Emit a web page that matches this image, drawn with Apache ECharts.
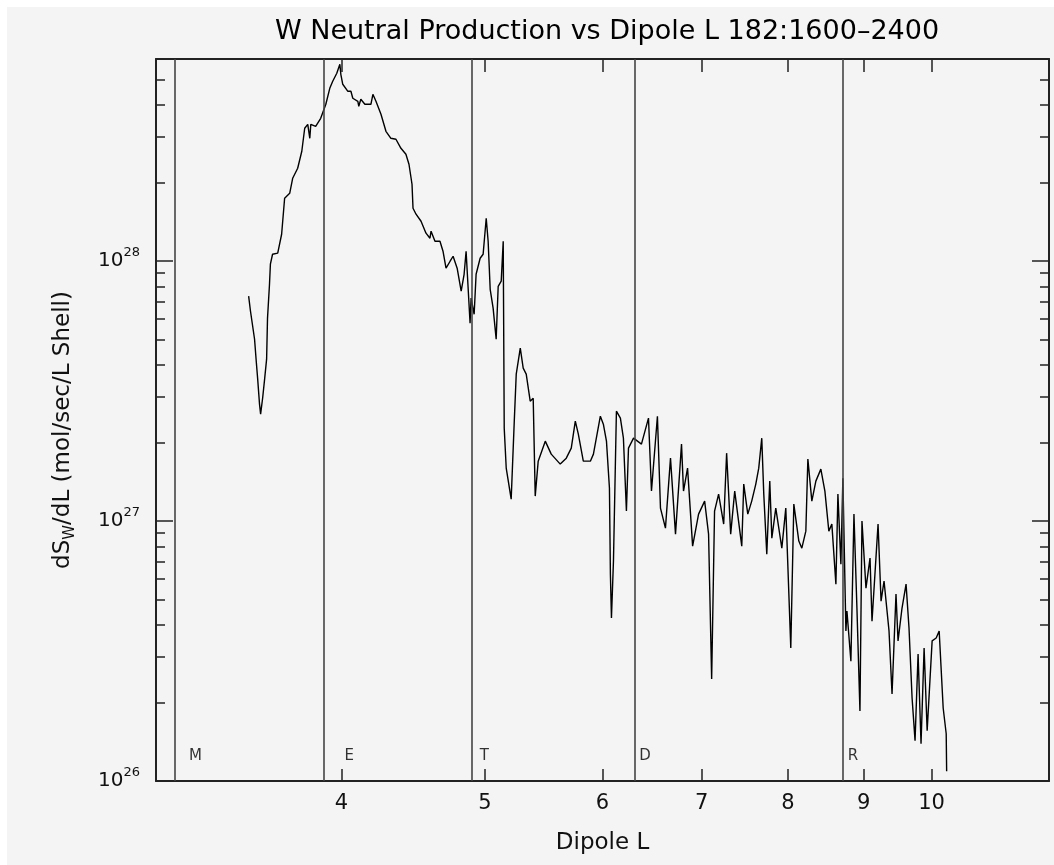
<!DOCTYPE html>
<html>
<head>
<meta charset="utf-8">
<script src="https://cdn.jsdelivr.net/npm/echarts@6/dist/echarts.min.js"></script>
<style>
  html, body { margin: 0; padding: 0; background: #fff; }
  #chart { position: absolute; left: 7px; top: 7px; width: 1047px; height: 858px; }
</style>
</head>
<body>
<div id="chart"></div>
<script>
// dipole L of each sample
var dipoleL = [
  3.464, 3.474, 3.496, 3.505, 3.513, 3.523, 3.529, 3.540, 3.551, 3.562,
  3.567, 3.578, 3.583, 3.595, 3.624, 3.646, 3.663, 3.692, 3.709, 3.738,
  3.762, 3.779, 3.797, 3.809, 3.815, 3.844, 3.874, 3.905, 3.929, 3.947,
  3.972, 3.991, 3.997, 4.009, 4.041, 4.060, 4.072, 4.104, 4.110, 4.123,
  4.149, 4.188, 4.201, 4.221, 4.254, 4.287, 4.320, 4.354, 4.388, 4.422,
  4.443, 4.464, 4.471, 4.492, 4.527, 4.562, 4.590, 4.598, 4.626, 4.662,
  4.684, 4.706, 4.736, 4.758, 4.788, 4.818, 4.840, 4.855, 4.885, 4.893,
  4.916, 4.931, 4.962, 4.985, 5.009, 5.024, 5.040, 5.063, 5.087, 5.103,
  5.127, 5.143, 5.151, 5.167, 5.207, 5.232, 5.248, 5.281, 5.305, 5.330,
  5.363, 5.388, 5.405, 5.430, 5.490, 5.541, 5.619, 5.672, 5.716, 5.752,
  5.779, 5.824, 5.888, 5.916, 5.980, 6.008, 6.037, 6.065, 6.074, 6.084,
  6.103, 6.131, 6.169, 6.198, 6.227, 6.247, 6.296, 6.374, 6.444, 6.474,
  6.534, 6.565, 6.616, 6.668, 6.720, 6.783, 6.804, 6.847, 6.901, 6.965,
  7.031, 7.074, 7.108, 7.140, 7.185, 7.242, 7.275, 7.321, 7.367, 7.448,
  7.471, 7.518, 7.564, 7.612, 7.647, 7.683, 7.707, 7.743, 7.779, 7.804,
  7.852, 7.926, 7.975, 8.037, 8.075, 8.138, 8.176, 8.227, 8.253, 8.304,
  8.356, 8.421, 8.474, 8.526, 8.566, 8.620, 8.647, 8.687, 8.714, 8.755,
  8.769, 8.823, 8.865, 8.906, 8.948, 8.976, 9.032, 9.089, 9.117, 9.203,
  9.246, 9.289, 9.361, 9.405, 9.463, 9.493, 9.552, 9.612, 9.656, 9.702,
  9.747, 9.793, 9.838, 9.885, 9.932, 10.009, 10.072, 10.119, 10.182, 10.230,
  10.237
];
// dS_W/dL (mol/sec/L shell)
var production = [
  7.34e27, 6.42e27, 5.01e27, 4.13e27, 3.52e27, 2.82e27, 2.58e27, 2.97e27, 3.52e27, 4.20e27,
  6.04e27, 8.16e27, 9.74e27, 1.064e28, 1.074e28, 1.27e28, 1.747e28, 1.826e28, 2.085e28, 2.279e28,
  2.649e28, 3.248e28, 3.364e28, 2.972e28, 3.364e28, 3.305e28, 3.548e28, 4.017e28, 4.628e28, 4.924e28,
  5.286e28, 5.724e28, 5.24e28, 4.796e28, 4.507e28, 4.507e28, 4.237e28, 4.125e28, 3.946e28, 4.20e28,
  4.017e28, 4.017e28, 4.388e28, 4.125e28, 3.677e28, 3.162e28, 2.972e28, 2.946e28, 2.72e28, 2.579e28,
  2.361e28, 1.978e28, 1.599e28, 1.517e28, 1.425e28, 1.282e28, 1.226e28, 1.305e28, 1.194e28, 1.194e28,
  1.093e28, 9.40e27, 1.0e28, 1.045e28, 9.40e27, 7.67e27, 8.91e27, 1.093e28, 5.78e27, 7.21e27,
  6.25e27, 8.91e27, 1.027e28, 1.064e28, 1.464e28, 1.194e28, 7.80e27, 6.60e27, 5.01e27, 8.01e27,
  8.38e27, 1.194e28, 2.28e27, 1.60e27, 1.215e27, 2.425e27, 3.677e27, 4.628e27, 3.877e27, 3.677e27,
  2.894e27, 2.972e27, 1.248e27, 1.701e27, 2.031e27, 1.81e27, 1.657e27, 1.747e27, 1.909e27, 2.425e27,
  2.161e27, 1.701e27, 1.701e27, 1.81e27, 2.533e27, 2.361e27, 2.031e27, 1.339e27, 6.25e26, 4.24e26,
  7.02e26, 2.649e27, 2.49e27, 2.085e27, 1.093e27, 1.909e27, 2.085e27, 1.978e27, 2.49e27, 1.305e27,
  2.533e27, 1.122e27, 9.40e26, 1.747e27, 8.91e26, 1.978e27, 1.305e27, 1.599e27, 8.01e26, 1.064e27,
  1.194e27, 8.91e26, 2.47e26, 1.093e27, 1.27e27, 9.74e26, 1.826e27, 8.91e26, 1.305e27, 8.01e26,
  1.388e27, 1.064e27, 1.194e27, 1.388e27, 1.599e27, 2.085e27, 1.27e27, 7.46e26, 1.425e27, 8.60e26,
  1.122e27, 7.87e26, 1.122e27, 3.25e26, 1.163e27, 8.38e26, 7.87e26, 9.15e26, 1.732e27, 1.194e27,
  1.425e27, 1.585e27, 1.305e27, 9.15e26, 9.74e26, 5.72e26, 1.27e27, 6.83e26, 1.463e27, 3.78e26,
  4.51e26, 2.89e26, 1.064e27, 4.63e26, 1.86e26, 1.0e27, 5.52e26, 7.21e26, 4.12e26, 9.74e26,
  4.92e26, 5.88e26, 3.78e26, 2.16e26, 5.24e26, 3.46e26, 4.63e26, 5.72e26, 3.88e26, 2.09e26,
  1.43e26, 3.08e26, 1.39e26, 3.25e26, 1.56e26, 3.46e26, 3.55e26, 3.78e26, 1.91e26, 1.52e26,
  1.09e26
];
// region boundaries (vertical lines) and their letters
var regionL = [3.07, 3.93, 4.875, 6.29, 8.73];
var regionNames = ['M', 'E', 'T', 'D', 'R'];
var regionLabelValue = 1.25e26;
// axes
var xRange = [3, 12];
var yRange = [1e26, 6e28];
var xTickValues = [4, 5, 6, 7, 8, 9, 10];
var yDecades = [26, 27, 28];
var yMinorMantissa = [2, 3, 4, 5, 6, 7, 8, 9];

var FONT = 'DejaVu Sans';
var lg = Math.log10;

var yMajor = yDecades.slice();
var yMinor = [];
yDecades.forEach(function (d) {
  yMinorMantissa.forEach(function (m) {
    var v = lg(m) + d;
    if (v <= lg(yRange[1])) yMinor.push(v);
  });
});
var xTicks = xTickValues.map(lg);

var lineData = dipoleL.map(function (l, i) { return [lg(l), lg(production[i])]; });
var regionLines = regionL.map(function (l) { return { xAxis: lg(l) }; });
var regionLabels = regionL.map(function (l, i) {
  return { name: regionNames[i], value: [lg(l + 0.12), lg(regionLabelValue)] };
});

var frame = { show: true, lineStyle: { color: '#222', width: 2 } };
function xAxisDef(pos, showLabel, len) {
  return {
    type: 'value', position: pos, min: lg(xRange[0]), max: lg(xRange[1]),
    axisLine: frame, splitLine: { show: false },
    axisTick: { show: true, inside: true, length: len, customValues: xTicks,
      lineStyle: { color: '#222', width: 1.5 } },
    axisLabel: { show: showLabel, customValues: xTicks, margin: 12,
      fontFamily: FONT, fontSize: 21, color: '#111',
      formatter: function (v) { return String(Math.round(Math.pow(10, v))); } }
  };
}
function yAxisDef(pos, ticks, len, showLabel, line) {
  return {
    type: 'value', position: pos, min: lg(yRange[0]), max: lg(yRange[1]),
    axisLine: line ? frame : { show: false }, splitLine: { show: false },
    axisTick: { show: true, inside: true, length: len, customValues: ticks,
      lineStyle: { color: '#222', width: 1.5 } },
    axisLabel: { show: showLabel, customValues: ticks, margin: 16,
      formatter: function (v) { return '{b|10}{s|' + Math.round(v) + '}'; },
      rich: {
        b: { fontFamily: FONT, fontSize: 20, color: '#111', lineHeight: 22, verticalAlign: 'middle' },
        s: { fontFamily: FONT, fontSize: 13, color: '#111', lineHeight: 13, padding: [0, 0, 17, 0], verticalAlign: 'middle' }
      } }
  };
}

var yLeft = yAxisDef('left', yMajor, 17, true, true);
yLeft.name = '{a|dS}{w|W}{a|/dL (mol/sec/L Shell)}';
yLeft.nameLocation = 'middle';
yLeft.nameGap = 79;
yLeft.nameTextStyle = {
  padding: [0, 20, 0, 0],
  rich: {
    a: { fontFamily: FONT, fontSize: 23, color: '#111', lineHeight: 28, verticalAlign: 'middle' },
    w: { fontFamily: FONT, fontSize: 15, color: '#111', lineHeight: 14, padding: [14, 0, 0, 0], verticalAlign: 'middle' }
  }
};

var xBottom = xAxisDef('bottom', true, 12);
xBottom.name = 'Dipole L';
xBottom.nameLocation = 'middle';
xBottom.nameGap = 51;
xBottom.nameTextStyle = { fontFamily: FONT, fontSize: 23, color: '#111' };

var chart = echarts.init(document.getElementById('chart'));
var option = {
  animation: false,
  backgroundColor: '#f4f4f4',
  graphic: [{
    type: 'text', x: 600, y: 25,
    style: { text: 'W Neutral Production vs Dipole L 182:1600\u20132400',
      font: '27px "DejaVu Sans"', fill: '#000', align: 'center', verticalAlign: 'middle' }
  }],
  grid: { left: 149, right: 5, top: 52, bottom: 84, containLabel: false },
  xAxis: [xBottom, xAxisDef('top', false, 13)],
  yAxis: [
    yLeft,
    yAxisDef('left', yMinor, 9, false, false),
    yAxisDef('right', yMajor, 17, false, true),
    yAxisDef('right', yMinor, 9, false, false)
  ],
  series: [
    {
      type: 'line', data: lineData, xAxisIndex: 0, yAxisIndex: 0,
      showSymbol: false, symbol: 'none',
      lineStyle: { color: '#000', width: 1.4 },
      markLine: {
        silent: true, symbol: 'none', label: { show: false },
        lineStyle: { color: '#444', width: 1.6, type: 'solid' },
        data: regionLines
      }
    },
    {
      type: 'scatter', data: regionLabels, xAxisIndex: 0, yAxisIndex: 0,
      symbolSize: 0, silent: true,
      label: { show: true, position: 'inside', formatter: '{b}',
        fontFamily: FONT, fontSize: 15, color: '#000' }
    }
  ]
};
chart.setOption(option);
window.onresize = function () { chart.resize(); };
</script>
</body>
</html>
